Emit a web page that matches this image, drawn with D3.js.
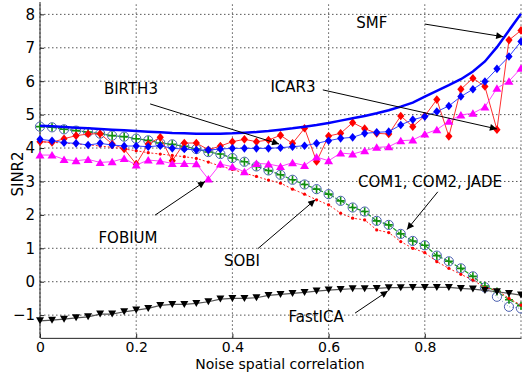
<!DOCTYPE html>
<html>
<head>
<meta charset="utf-8">
<script src="https://cdn.jsdelivr.net/npm/d3@7"></script>
<style>
  html, body { margin: 0; padding: 0; background: #fff; }
  svg { display: block; }
  text { font-family: "DejaVu Sans", sans-serif; fill: #000; }
</style>
</head>
<body>
<svg id="chart" width="522" height="374"></svg>
<script>
// ---------------- data ----------------
const xValues = [0, 0.025, 0.05, 0.075, 0.1, 0.125, 0.15, 0.175, 0.2, 0.225,
  0.25, 0.275, 0.3, 0.325, 0.35, 0.375, 0.4, 0.425, 0.45, 0.475,
  0.5, 0.525, 0.55, 0.575, 0.6, 0.625, 0.65, 0.675, 0.7, 0.725,
  0.75, 0.775, 0.8, 0.825, 0.85, 0.875, 0.9, 0.925, 0.95, 0.975, 1];

const smf = [4.67, 4.65, 4.63, 4.61, 4.59, 4.57, 4.55, 4.53, 4.51, 4.49,
  4.47, 4.45, 4.44, 4.43, 4.43, 4.43, 4.44, 4.46, 4.48, 4.51,
  4.55, 4.59, 4.64, 4.69, 4.75, 4.82, 4.89, 4.96, 5.04, 5.13,
  5.24, 5.36, 5.54, 5.71, 5.88, 6.06, 6.29, 6.59, 7.02, 7.52, 8.02];

const birth3 = [4.26, 4.22, 4.16, 4.14, 4.09, 4.14, 4.09, 4.06, 4.06, 4.04,
  4.07, 3.99, 3.97, 3.94, 3.94, 3.97, 3.99, 3.99, 3.99, 3.99,
  4.01, 4.04, 4.07, 4.14, 4.22, 4.29, 4.32, 4.44, 4.47, 4.49,
  4.69, 4.85, 4.94, 5.09, 5.26, 5.54, 5.76, 5.99, 6.37, 6.74, 7.19];

const icar3 = [4.19, 4.17, 4.28, 4.37, 4.42, 4.43, 4.12, 3.97, 3.52, 4.12,
  4.32, 3.62, 4.15, 4.15, 3.95, 4.06, 4.19, 4.26, 4.19, 4.24,
  4.38, 4.14, 4.59, 3.60, 4.36, 4.44, 4.76, 4.58, 4.44, 4.42,
  4.96, 4.64, 4.96, 5.45, 4.35, 5.76, 6.09, 5.84, 4.55, 7.23, 7.52];

const fobium = [3.79, 3.79, 3.66, 3.62, 3.66, 3.57, 3.59, 3.69, 3.49, 3.64,
  3.61, 3.54, 3.54, 3.53, 3.07, 3.52, 3.44, 3.29, 3.54, 3.52,
  3.45, 3.56, 3.48, 3.73, 3.62, 3.85, 3.82, 3.92, 4.02, 4.04,
  4.22, 4.24, 4.42, 4.55, 4.80, 4.99, 5.04, 5.23, 5.79, 6.00, 6.39];

const comJade = [4.64, 4.62, 4.56, 4.52, 4.48, 4.43, 4.37, 4.34, 4.28, 4.23,
  4.15, 4.11, 4.05, 3.97, 3.88, 3.82, 3.70, 3.59, 3.45, 3.33,
  3.20, 3.05, 2.91, 2.77, 2.62, 2.42, 2.22, 2.10, 1.82, 1.70,
  1.43, 1.22, 1.09, 0.78, 0.61, 0.40, 0.16, -0.13, -0.29, -0.54, -0.72];

const comCircles = [4.64, 4.62, 4.56, 4.52, 4.48, 4.43, 4.37, 4.34, 4.28, 4.23,
  4.15, 4.11, 4.05, 3.97, 3.88, 3.82, 3.70, 3.59, 3.45, 3.33,
  3.20, 3.05, 2.91, 2.77, 2.62, 2.42, 2.22, 2.10, 1.82, 1.70,
  1.43, 1.22, 1.09, 0.78, 0.61, 0.40, 0.16, -0.17, -0.45, -0.75, -0.80];

const sobi = [4.19, 4.17, 4.15, 4.12, 4.10, 4.06, 4.02, 3.97, 3.92, 3.86,
  3.82, 3.78, 3.74, 3.69, 3.58, 3.46, 3.36, 3.25, 3.15, 3.04,
  2.95, 2.77, 2.62, 2.45, 2.30, 2.05, 1.90, 1.85, 1.55, 1.47,
  1.20, 1.00, 0.87, 0.60, 0.40, 0.22, 0.05, -0.18, -0.25, -0.50, -0.70];

const fastica = [-1.17, -1.15, -1.12, -1.08, -1.05, -0.97, -0.97, -0.90, -0.85, -0.80,
  -0.71, -0.68, -0.68, -0.65, -0.60, -0.52, -0.50, -0.50, -0.48, -0.41,
  -0.38, -0.35, -0.32, -0.28, -0.25, -0.23, -0.21, -0.21, -0.20, -0.18,
  -0.18, -0.17, -0.17, -0.17, -0.17, -0.20, -0.22, -0.26, -0.30, -0.35, -0.40];

const xTickValues = [0, 0.2, 0.4, 0.6, 0.8];
const yTickValues = [-1, 0, 1, 2, 3, 4, 5, 6, 7, 8];
const xTitle = "Noise spatial correlation";
const yTitle = "SINR2";

// annotation labels: [text, label x, label y, arrow from x, from y, arrow to x, to y] (data units)
const annotations = [
  ["SMF", 0.690, 7.74, 0.800, 7.71, 0.963, 7.33],
  ["ICAR3", 0.526, 5.83, 0.588, 5.74, 0.950, 4.57],
  ["BIRTH3", 0.189, 5.77, 0.229, 5.32, 0.497, 4.12],
  ["FOBIUM", 0.183, 1.31, 0.239, 1.99, 0.343, 3.00],
  ["SOBI", 0.420, 0.62, 0.453, 0.99, 0.572, 2.45],
  ["COM1, COM2, JADE", 0.811, 3.00, 0.827, 2.69, 0.763, 1.56],
  ["FastICA", 0.574, -1.04, 0.655, -0.94, 0.723, -0.28]
];

// ---------------- drawing ----------------
const svg = d3.select("#chart");
const x = d3.scaleLinear().domain([0, 1]).range([40, 521]);
const y = d3.scaleLinear().domain([-1.68, 8.37]).range([337.85, 2]);

// grid
const grid = svg.append("g");
grid.selectAll("line.gx").data(xTickValues.concat([1])).join("line")
  .attr("x1", d => x(d)).attr("x2", d => x(d))
  .attr("y1", y.range()[0]).attr("y2", y.range()[1])
  .attr("stroke", "#555").attr("stroke-width", 1).attr("stroke-dasharray", "1.5,2.5");
grid.selectAll("line.gy").data(yTickValues).join("line")
  .attr("x1", x(0)).attr("x2", x(1))
  .attr("y1", d => y(d)).attr("y2", d => y(d))
  .attr("stroke", "#555").attr("stroke-width", 1).attr("stroke-dasharray", "1.5,2.5");

// axes
const xAxis = svg.append("g").attr("transform", `translate(0,${y.range()[0]})`)
  .call(d3.axisBottom(x).tickValues(xTickValues).tickFormat(d3.format("~g"))
    .tickSizeInner(-4).tickSizeOuter(0).tickPadding(4));
const yAxis = svg.append("g").attr("transform", `translate(${x(0)},0)`)
  .call(d3.axisLeft(y).tickValues(yTickValues).tickFormat(d3.format("d"))
    .tickSizeInner(-4).tickSizeOuter(0).tickPadding(5));
[xAxis, yAxis].forEach(a => {
  a.select(".domain").attr("stroke", "#222");
  a.selectAll(".tick line").attr("stroke", "#222");
  a.selectAll(".tick text").attr("font-size", 15).attr("font-family", "DejaVu Sans, sans-serif").attr("fill", "#000");
});
xAxis.selectAll(".tick text").attr("font-size", 14);
yAxis.select(".domain").attr("d", `M0,${y.range()[0]}V${y.range()[1]}`);

svg.append("text").attr("x", 280).attr("y", 369).attr("text-anchor", "middle")
  .attr("font-size", 14).text(xTitle);
svg.append("text").attr("transform", "translate(23,174) rotate(-90)")
  .attr("text-anchor", "middle").attr("font-size", 15).text(yTitle);

const line = vals => d3.line().x((d, i) => x(xValues[i])).y(d => y(d))(vals);
const pts = vals => vals.map((v, i) => [x(xValues[i]), y(v)]);

// COM / JADE: blue open circles + green plus, dashed green line
svg.append("path").attr("d", line(comCircles)).attr("fill", "none")
  .attr("stroke", "#6070c0").attr("stroke-width", 0.8).attr("stroke-dasharray", "1,2");
svg.append("path").attr("d", line(comJade)).attr("fill", "none")
  .attr("stroke", "#20a020").attr("stroke-width", 1.2).attr("stroke-dasharray", "4,2");
svg.append("g").selectAll("circle").data(pts(comCircles)).join("circle")
  .attr("cx", d => d[0]).attr("cy", d => d[1]).attr("r", 4.6)
  .attr("fill", "none").attr("stroke", "#4a5fb0").attr("stroke-width", 1);
svg.append("g").selectAll("path").data(pts(comJade)).join("path")
  .attr("d", d => `M${d[0]-4},${d[1]}H${d[0]+4}M${d[0]},${d[1]-4}V${d[1]+4}`)
  .attr("stroke", "#109010").attr("stroke-width", 1.6);

// SOBI: red dotted with small dots
svg.append("path").attr("d", line(sobi)).attr("fill", "none")
  .attr("stroke", "#ff2020").attr("stroke-width", 1).attr("stroke-dasharray", "2,2");
svg.append("g").selectAll("circle").data(pts(sobi)).join("circle")
  .attr("cx", d => d[0]).attr("cy", d => d[1]).attr("r", 1.6).attr("fill", "#ff0000");

// FastICA: black down triangles
svg.append("path").attr("d", line(fastica)).attr("fill", "none")
  .attr("stroke", "#555").attr("stroke-width", 1.2);
svg.append("g").selectAll("path").data(pts(fastica)).join("path")
  .attr("d", d => `M${d[0]-4},${d[1]-3.5}L${d[0]+4},${d[1]-3.5}L${d[0]},${d[1]+3.5}Z`)
  .attr("fill", "#000");

// ICAR3: red diamonds
svg.append("path").attr("d", line(icar3)).attr("fill", "none")
  .attr("stroke", "#ff3030").attr("stroke-width", 1);
svg.append("g").selectAll("path").data(pts(icar3)).join("path")
  .attr("d", d => `M${d[0]},${d[1]-4.3}L${d[0]+3.6},${d[1]}L${d[0]},${d[1]+4.3}L${d[0]-3.6},${d[1]}Z`)
  .attr("fill", "#ff0000");

// BIRTH3: blue diamonds
svg.append("path").attr("d", line(birth3)).attr("fill", "none")
  .attr("stroke", "#3040ff").attr("stroke-width", 1);
svg.append("g").selectAll("path").data(pts(birth3)).join("path")
  .attr("d", d => `M${d[0]},${d[1]-4.3}L${d[0]+3.6},${d[1]}L${d[0]},${d[1]+4.3}L${d[0]-3.6},${d[1]}Z`)
  .attr("fill", "#0000ff");

// FOBIUM: magenta up triangles
svg.append("path").attr("d", line(fobium)).attr("fill", "none")
  .attr("stroke", "#ff40ff").attr("stroke-width", 1);
svg.append("g").selectAll("path").data(pts(fobium)).join("path")
  .attr("d", d => `M${d[0]-4.5},${d[1]+3.5}L${d[0]+4.5},${d[1]+3.5}L${d[0]},${d[1]-4}Z`)
  .attr("fill", "#ff00ff");

// SMF: thick blue line
svg.append("path").attr("d", line(smf)).attr("fill", "none")
  .attr("stroke", "#0000ff").attr("stroke-width", 2.5);

// annotations
svg.append("defs").append("marker").attr("id", "arrow")
  .attr("viewBox", "0 0 10 10").attr("refX", 10).attr("refY", 5)
  .attr("markerWidth", 9).attr("markerHeight", 7).attr("markerUnits", "userSpaceOnUse")
  .attr("orient", "auto")
  .append("path").attr("d", "M0,0L10,5L0,10Z").attr("fill", "#000");

const ann = svg.append("g");
annotations.forEach(a => {
  ann.append("line").attr("x1", x(a[3])).attr("y1", y(a[4]))
    .attr("x2", x(a[5])).attr("y2", y(a[6]))
    .attr("stroke", "#000").attr("stroke-width", 1).attr("marker-end", "url(#arrow)");
  ann.append("text").attr("x", x(a[1])).attr("y", y(a[2])).attr("dy", "0.36em")
    .attr("text-anchor", "middle").attr("font-size", 15).text(a[0]);
});
</script>
</body>
</html>
